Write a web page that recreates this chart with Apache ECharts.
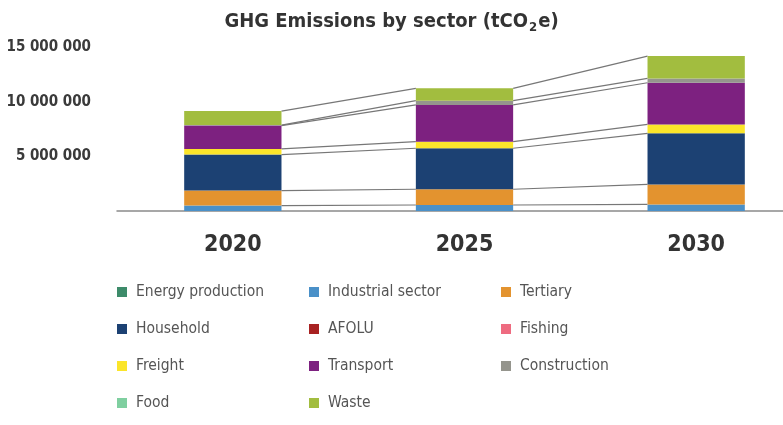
<!DOCTYPE html>
<html>
<head>
<meta charset="utf-8">
<script src="https://cdn.jsdelivr.net/npm/echarts@6/dist/echarts.min.js"></script>
<style>
	html, body { margin: 0; padding: 0; background: #fff; }
	#chart { width: 783px; height: 425px; }
</style>
</head>
<body>
<div id="chart"></div>
<script>
// 年份
var years = ['2020', '2025', '2030'];
// y轴刻度
var yTicks = [0, 5000000, 10000000, 15000000];

// 各部门排放 (tCO2e)
var energyProduction = [0, 0, 0];
var industrialSector = [500000, 550000, 600000];
var tertiary = [1370000, 1440000, 1830000];
var household = [3290000, 3750000, 4670000];
var afolu = [0, 0, 0];
var fishing = [0, 0, 0];
var freight = [520000, 600000, 820000];
var transport = [2130000, 3360000, 3810000];
var construction = [50000, 390000, 400000];
var food = [0, 0, 0];
var waste = [1280000, 1130000, 2040000];

var sectorNames = ['Energy production', 'Industrial sector', 'Tertiary', 'Household', 'AFOLU', 'Fishing',
	'Freight', 'Transport', 'Construction', 'Food', 'Waste'];
var sectorValues = [energyProduction, industrialSector, tertiary, household, afolu, fishing,
	freight, transport, construction, food, waste];
var sectorColors = ['#3d8b6a', '#4a90c8', '#e3932f', '#1c4173', '#a82222', '#ee6b80',
	'#fbe52a', '#7d2180', '#95958d', '#7fcfa0', '#a2bd3f'];

var FONT = '"DejaVu Sans Condensed", sans-serif';
var BAR_RATIO = 0.42;

// 累计高度 (连接线用)
var levels = [];
var running = years.map(function () { return 0; });
sectorValues.forEach(function (vals) {
	var nonZero = vals.some(function (v) { return v > 0; });
	running = running.map(function (r, i) { return r + vals[i]; });
	if (nonZero) levels.push(running.slice());
});

var series = sectorNames.map(function (name, k) {
	return {
		name: name,
		type: 'bar',
		stack: 'total',
		barWidth: (BAR_RATIO * 100) + '%',
		itemStyle: { color: sectorColors[k] },
		data: sectorValues[k]
	};
});

// 连接线
series.push({
	type: 'custom',
	silent: true,
	z: 1,
	renderItem: function (params, api) {
		var i = params.dataIndex;
		var half = api.size([1, 0])[0] * BAR_RATIO / 2;
		var children = levels.map(function (cum) {
			var p1 = api.coord([i, cum[i]]);
			var p2 = api.coord([i + 1, cum[i + 1]]);
			return {
				type: 'line',
				shape: { x1: p1[0] + half, y1: p1[1], x2: p2[0] - half, y2: p2[1] },
				style: { stroke: '#777', lineWidth: 1.2 }
			};
		});
		return { type: 'group', children: children };
	},
	encode: { x: 0, y: 1 },
	data: years.slice(0, years.length - 1).map(function (y, i) { return [i, 0]; })
});

function legendCol(names, left) {
	return {
		orient: 'vertical',
		left: left,
		top: 282,
		padding: 0,
		itemGap: 17,
		itemWidth: 10,
		itemHeight: 10,
		icon: 'rect',
		selectedMode: false,
		textStyle: {
			color: '#555',
			fontFamily: FONT,
			fontSize: 15.5,
			lineHeight: 20,
			padding: [0, 0, 0, 4]
		},
		data: names
	};
}

var chart = echarts.init(document.getElementById('chart'));
chart.setOption({
	animation: false,
	title: {
		text: 'GHG Emissions by sector (tCO{sub|2}e)',
		left: 'center',
		top: 4,
		textStyle: {
			color: '#333',
			fontFamily: FONT,
			fontWeight: 'bold',
			fontSize: 20,
			rich: {
				sub: {
					color: '#333',
					fontFamily: FONT,
					fontWeight: 'bold',
					fontSize: 13,
					verticalAlign: 'bottom',
					padding: [12, 1, 0, 1]
				}
			}
		}
	},
	legend: [
		legendCol(['Energy production', 'Household', 'Freight', 'Food'], 117),
		legendCol(['Industrial sector', 'AFOLU', 'Transport', 'Waste'], 309),
		legendCol(['Tertiary', 'Fishing', 'Construction'], 501)
	],
	grid: { left: 117, top: 47, right: -29, height: 164, outerBoundsMode: 'none' },
	xAxis: {
		type: 'category',
		data: years,
		axisLine: { lineStyle: { color: '#8a8a8a', width: 1.5 } },
		axisTick: { show: false },
		axisLabel: {
			color: '#333',
			fontFamily: FONT,
			fontWeight: 'bold',
			fontSize: 23,
			margin: 23
		}
	},
	yAxis: {
		type: 'value',
		min: yTicks[0],
		max: yTicks[yTicks.length - 1],
		interval: yTicks[1] - yTicks[0],
		splitLine: { show: false },
		axisLine: { show: false },
		axisTick: { show: false },
		axisLabel: {
			margin: 26,
			color: '#3a3a3a',
			fontFamily: FONT,
			fontWeight: 'bold',
			fontSize: 15,
			formatter: function (v) {
				if (v === 0) return '';
				return String(v).replace(/\B(?=(\d{3})+(?!\d))/g, ' ');
			}
		}
	},
	series: series
});
</script>
</body>
</html>
